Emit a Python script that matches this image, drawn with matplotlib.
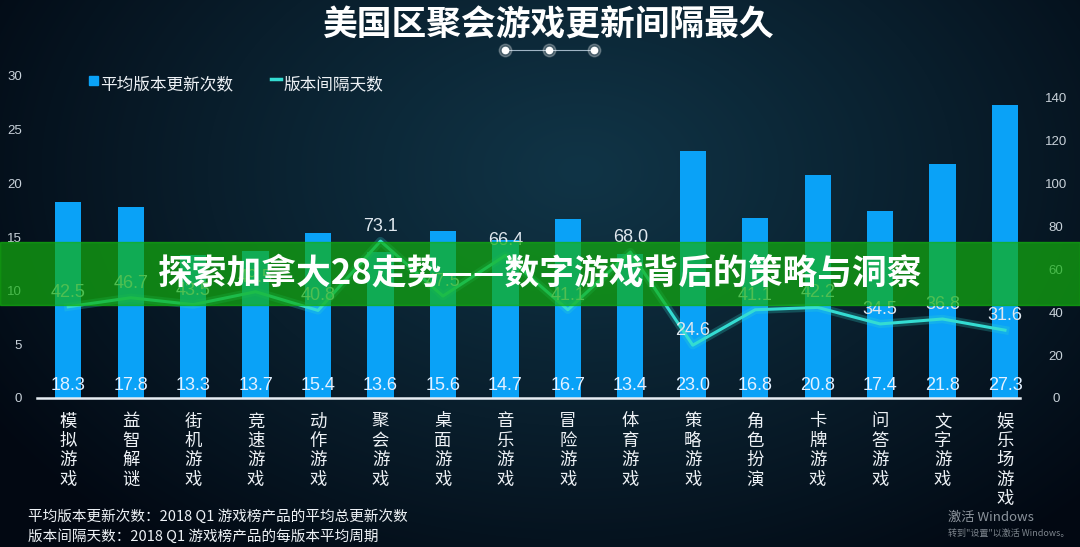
import matplotlib
matplotlib.use('Agg')
import matplotlib.pyplot as plt
import numpy as np
from matplotlib.patches import Rectangle
from matplotlib.lines import Line2D

plt.rcParams['font.family'] = ['Noto Sans CJK SC', 'DejaVu Sans']

categories = ['模拟游戏', '益智解谜', '街机游戏', '竞速游戏', '动作游戏', '聚会游戏',
              '桌面游戏', '音乐游戏', '冒险游戏', '体育游戏', '策略游戏', '角色扮演',
              '卡牌游戏', '问答游戏', '文字游戏', '娱乐场游戏']
updates = [18.3, 17.8, 13.3, 13.7, 15.4, 13.6, 15.6, 14.7, 16.7, 13.4, 23.0, 16.8,
           20.8, 17.4, 21.8, 27.3]
interval_days = [42.5, 46.7, 43.5, 49.5, 40.8, 73.1, 47.5, 66.4, 41.1, 68.0, 24.6,
                 41.1, 42.2, 34.5, 36.8, 31.6]
left_ticks = [0, 5, 10, 15, 20, 25, 30]
right_ticks = [0, 20, 40, 60, 80, 100, 120, 140]

W, H = 1080, 547
fig = plt.figure(figsize=(W / 100, H / 100), dpi=100)

# background glow
bg = fig.add_axes([0, 0, 1, 1])
yy, xx = np.mgrid[0:H, 0:W]
r = np.sqrt(((xx - 580) / 700.0) ** 2 + ((yy - 170) / 480.0) ** 2)
t = np.clip(r, 0, 1) ** 1.1
c_in = np.array([0x10, 0x34, 0x46]) / 255.0
c_out = np.array([0x02, 0x08, 0x12]) / 255.0
img = c_in[None, None, :] * (1 - t[..., None]) + c_out[None, None, :] * t[..., None]
bg.imshow(img, aspect='auto', extent=[0, 1, 0, 1])
bg.axis('off')

ax = fig.add_axes([37 / W, 1 - 398 / H, 983 / W, 322 / H])
ax.patch.set_alpha(0)
x = np.arange(len(categories))
ax.bar(x, updates, width=0.42, color='#0aa2f7', zorder=2)
ax.set_xlim(-0.5, 15.24)
ax.set_ylim(0, 30)
ax.set_yticks(left_ticks)
ax.tick_params(axis='y', length=0, pad=11, labelcolor='#c9d2da', labelsize=9.5)
ax.set_xticks([])
for s in ['top', 'left', 'right']:
    ax.spines[s].set_visible(False)
ax.spines['bottom'].set_color('#e8eef4')
ax.spines['bottom'].set_linewidth(1.8)
for lab in ax.get_yticklabels():
    lab.set_family(['Liberation Sans'])

for i, v in enumerate(updates):
    ax.text(i, 1.15, f'{v:.1f}', ha='center', va='center', color='#e4f1ff',
            fontsize=13, family=['Liberation Sans'], zorder=5)

for i, c in enumerate(categories):
    ax.text(i, -0.045, '\n'.join(c), transform=ax.get_xaxis_transform(),
            ha='center', va='top', color='#eef2f6', fontsize=12.5, linespacing=1.1)

ax2 = ax.twinx()
ax2.set_ylim(0, 150)
ax2.set_yticks(right_ticks)
ax2.tick_params(axis='y', length=0, pad=26, labelcolor='#c9d2da', labelsize=9.5)
for s in ax2.spines.values():
    s.set_visible(False)
for lab in ax2.get_yticklabels():
    lab.set_family(['Liberation Sans'])
    lab.set_horizontalalignment('center')
ax2.plot(x, interval_days, color='#2fd8d0', linewidth=6, alpha=0.25, zorder=3)
ax2.plot(x, interval_days, color='#34dcd2', linewidth=2.2, zorder=4)
for i, v in enumerate(interval_days):
    ax2.annotate(f'{v:.1f}', (i, v), xytext=(0, 10.5), textcoords='offset points',
                 ha='center', va='center', color='#dfe7ee', fontsize=13,
                 family=['Liberation Sans'], zorder=5)

# title and decoration
fig.text(549 / W, 1 - 25 / H, '美国区聚会游戏更新间隔最久', ha='center', va='center',
         color='white', fontsize=25, fontweight='bold')
fig.add_artist(Line2D([505 / W, 594 / W], [1 - 50 / H, 1 - 50 / H], color='#9fb4c4',
                      linewidth=0.8))
for dx in [505, 549, 594]:
    fig.add_artist(Line2D([dx / W], [1 - 50 / H], marker='o', markersize=9,
                          color='white', alpha=0.25, linestyle=''))
    fig.add_artist(Line2D([dx / W], [1 - 50 / H], marker='o', markersize=4.5,
                          color='white', linestyle=''))

# legend
fig.add_artist(Rectangle((89 / W, 1 - 85 / H), 9 / W, 9 / H, color='#0aa2f7',
                         transform=fig.transFigure))
fig.text(100 / W, 1 - 85 / H, '平均版本更新次数', ha='left', va='center',
         color='#eef2f6', fontsize=12)
fig.add_artist(Line2D([271 / W, 281 / W], [1 - 79 / H, 1 - 79 / H], color='#34dcd2',
                      linewidth=2.5))
fig.text(283 / W, 1 - 85 / H, '版本间隔天数', ha='left', va='center',
         color='#eef2f6', fontsize=12)

# footnotes
fig.text(28 / W, 1 - 517 / H, '平均版本更新次数：2018 Q1 游戏榜产品的平均总更新次数',
         ha='left', va='center', color='#eef2f6', fontsize=10.5)
fig.text(28 / W, 1 - 536 / H, '版本间隔天数：2018 Q1 游戏榜产品的每版本平均周期',
         ha='left', va='center', color='#eef2f6', fontsize=10.5)
fig.text(948 / W, 1 - 517 / H, '激活 Windows', ha='left', va='center',
         color='#8c949c', fontsize=9.5)
fig.text(948 / W, 1 - 533 / H, '转到"设置"以激活 Windows。', ha='left', va='center',
         color='#7c848c', fontsize=6.5)

# overlay banner
fig.add_artist(Rectangle((0, 1 - 305 / H), 1, 63 / H, color='#13af0f', alpha=0.7,
                         transform=fig.transFigure, zorder=10))
fig.text(540 / W, 1 - 273 / H, '探索加拿大28走势——数字游戏背后的策略与洞察',
         ha='center', va='center', color='white', fontsize=25, fontweight='bold',
         zorder=11)

fig.savefig('out.png', dpi=100)
